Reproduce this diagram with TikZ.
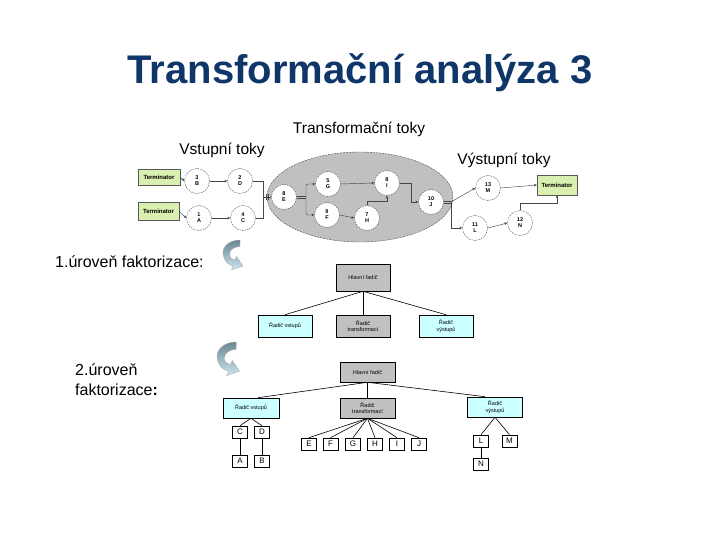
\documentclass[tikz,border=0pt]{standalone}
\usepackage{fontspec}
\setmainfont{Liberation Sans}
\usetikzlibrary{arrows.meta}
\definecolor{titleblue}{RGB}{14,54,104}
\definecolor{ellgray}{RGB}{192,192,192}
\definecolor{termgreen}{RGB}{218,240,176}
\definecolor{boxcyan}{RGB}{204,255,255}
\definecolor{boxgray}{RGB}{192,192,192}
\definecolor{linegray}{RGB}{70,70,70}
\definecolor{arrdark}{RGB}{105,135,145}
\definecolor{arrlight}{RGB}{205,230,242}
\tikzset{
  proc/.style={circle, draw=linegray, dash pattern=on 1.5pt off 1pt, fill=white, minimum size=25pt, inner sep=0pt,
    font=\fontsize{5.5}{6}\selectfont\bfseries, align=center, line width=0.4pt},
  term/.style={rectangle, draw=gray!70!black, fill=termgreen, inner sep=0pt, line width=0.4pt,
    font=\fontsize{6}{7}\selectfont\bfseries},
  flow/.style={draw=linegray, line width=0.45pt, -{Stealth[length=3pt,width=2.6pt]}},
  plain/.style={draw=linegray, line width=0.45pt},
  ctrl/.style={rectangle, draw=black, line width=0.6pt, minimum width=54pt, minimum height=22pt, inner sep=1pt,
    font=\fontsize{5.5}{6.5}\selectfont, align=center},
  ctrlgray/.style={ctrl, fill=boxgray},
  ctrlcyan/.style={ctrl, fill=boxcyan},
  leaf/.style={rectangle, draw=black, line width=0.6pt, fill=white, minimum width=15pt, minimum height=12pt, inner sep=0pt,
    font=\fontsize{8}{8}\selectfont},
  tree/.style={draw=black, line width=0.6pt},
  txt/.style={font=\fontsize{15.5}{18}\selectfont},
  uturn/.pic={
    \path[draw=gray!70, line width=0.3pt, top color=arrdark, bottom color=arrlight]
      (18,0) .. controls (6,0) and (0,8) .. (1,14) .. controls (2,21) and (6,25) .. (11,26)
      -- (9.5,30) -- (21,26) -- (14.5,16.5) -- (13,20)
      .. controls (9,19) and (7,17) .. (7.5,14) .. controls (8,10) and (11,7) .. (18,6.5) -- cycle;
  }
}
\begin{document}
\begin{tikzpicture}[x=1pt, y=-1pt]
\useasboundingbox (0,0) rectangle (720,540);
% title and labels
\node[anchor=base, font=\fontsize{40}{48}\selectfont\bfseries, text=titleblue, inner sep=0] (title) at (360,84) {Transformační analýza 3};
\node[anchor=base, txt, inner sep=0] (ttok) at (359,134) {Transformační toky};
\node[anchor=base, txt, inner sep=0] (vtok) at (222,155) {Vstupní toky};
\node[anchor=base, txt, inner sep=0] (otok) at (504,165) {Výstupní toky};
\node[anchor=base west, font=\fontsize{16}{20}\selectfont, inner sep=0] (lev1) at (55,267) {1.úroveň faktorizace:};
\node[anchor=base west, font=\fontsize{16}{20}\selectfont, inner sep=0] (lev2a) at (75,375) {2.úroveň};
\node[anchor=base west, font=\fontsize{16}{20}\selectfont, inner sep=0] (lev2b) at (75,395) {faktorizace\textbf{:}};
% curved arrows
\pic at (222,240) {uturn};
\pic[scale=1.12] at (216,342) {uturn};
% ellipse
\path[draw=gray!60!black, dash pattern=on 2pt off 1pt, line width=0.4pt, fill=ellgray] (360,197) ellipse [x radius=93, y radius=45];
% terminators
\node[term, minimum width=42pt, minimum height=16pt] (t1) at (159,177) {Terminator};
\node[term, minimum width=41pt, minimum height=18pt] (t2) at (158.5,211.5) {Terminator};
\node[term, minimum width=40pt, minimum height=20pt] (t3) at (557,185) {Terminator};
% processes
\node[proc] (p3) at (197,181) {3\\B};
\node[proc] (p2) at (240,181) {2\\D};
\node[proc] (p1) at (199,218) {1\\A};
\node[proc] (p4) at (243,218) {4\\C};
\node[proc] (p8) at (284,197) {8\\E};
\node[proc] (p5) at (328,184) {5\\G};
\node[proc] (p9) at (327,215) {9\\F};
\node[proc] (p8i) at (387,183) {8\\I};
\node[proc] (p7) at (367,218) {7\\H};
\node[proc] (p10) at (431,202) {10\\J};
\node[proc] (p13) at (488,188) {13\\M};
\node[proc] (p11) at (475,228) {11\\L};
\node[proc] (p12) at (520,223) {12\\N};
% flows
\draw[flow] (t1.east) -- (p3.west);
\draw[flow] (p3.east) -- (p2.west);
\draw[flow] (t2.east) -- (p1.west);
\draw[flow] (p1.east) -- (p4.west);
\coordinate (jE) at (263,197);
\draw[plain] (p2.east) -| (jE);
\draw[plain] (p4.east) -| (jE);
\draw[plain] (jE) -- (p8.west);
\draw[plain] ([xshift=3pt,yshift=3pt]jE) -- ([xshift=3pt,yshift=-3pt]jE)
             ([xshift=5pt,yshift=3pt]jE) -- ([xshift=5pt,yshift=-3pt]jE);
\coordinate (sE) at (306,197);
\draw[plain] ([yshift=1pt]p8.east) -- ([yshift=1pt]sE) ([yshift=-1pt]p8.east) -- ([yshift=-1pt]sE);
\draw[flow, rounded corners=2pt] (sE) |- (p5.west);
\draw[flow, rounded corners=2pt] (sE) |- (p9.west);
\draw[flow] (p5.east) -- (p8i.west);
\draw[flow] (p9.east) -- (p7.west);
\coordinate (hI) at (367,201);
\draw[flow] (p7.north) -- (hI) -| (p8i.south);
\coordinate (iJ) at (411,183);
\draw[flow] (p8i.east) -- (iJ) |- (p10.west);
\coordinate (sJ) at (451,202);
\draw[plain] ([yshift=1pt]p10.east) -- ([yshift=1pt]sJ) ([yshift=-1pt]p10.east) -- ([yshift=-1pt]sJ);
\draw[flow] (sJ) -- (p13.west);
\draw[flow] (sJ) |- (p11.west);
\draw[flow] (p13.east) -- (t3.west);
\draw[flow] (p11.east) -- (p12.west);
\coordinate (nT) at (520,203);
\draw[flow] (p12.north) -- (nT) -| (t3.south);
% level 1 hierarchy
\node[ctrlgray, minimum height=27pt] (h1) at (363,277.5) {Hlavní řadič};
\node[ctrlcyan] (v1) at (285,326) {Řadič vstupů};
\node[ctrlgray] (tr1) at (363,326) {Řadič\\transformací};
\node[ctrlcyan] (o1) at (446,326) {Řadič\\výstupů};
\draw[tree] (h1.south) -- (v1.north);
\draw[tree] (h1.south) -- (tr1.north);
\draw[tree] (h1.south) -- (o1.north);
% level 2 hierarchy
\node[ctrlgray, minimum width=55pt, minimum height=20pt] (h2) at (367.5,372) {Hlavní řadič};
\node[ctrlcyan, minimum width=56pt, minimum height=20pt] (v2) at (251,408) {Řadič vstupů};
\node[ctrlgray, minimum width=55pt, minimum height=20pt] (tr2) at (367.5,408) {Řadič\\transformací};
\node[ctrlcyan, minimum width=55pt, minimum height=20pt] (o2) at (495,407) {Řadič\\výstupů};
\draw[tree] (h2.south) -- ([xshift=7pt]v2.north);
\draw[tree] (h2.south) -- (tr2.north);
\draw[tree] (h2.south) -- ([xshift=-10pt]o2.north);
\node[leaf] (C) at (240,432) {C};
\node[leaf] (D) at (262,432) {D};
\node[leaf] (A) at (240,461) {A};
\node[leaf] (B) at (262,461) {B};
\draw[tree] (v2.south) -- (C.north);
\draw[tree] (v2.south) -- (D.north);
\draw[tree] (C.south) -- (A.north);
\draw[tree] (D.south) -- (B.north);
\node[leaf] (E) at (309,444) {E};
\node[leaf] (F) at (330.5,444) {F};
\node[leaf] (G) at (353,444) {G};
\node[leaf] (H) at (375,444) {H};
\node[leaf] (I) at (397,444) {I};
\node[leaf] (J) at (419,444) {J};
\foreach \n in {E,F,G,H,I,J} \draw[tree] (tr2.south) -- (\n.north);
\node[leaf] (L) at (481,441) {L};
\node[leaf] (M) at (509.5,441) {M};
\node[leaf] (N) at (481,464) {N};
\draw[tree] (o2.south) -- (L.north);
\draw[tree] (o2.south) -- (M.north);
\draw[tree] (L.south) -- (N.north);
\end{tikzpicture}
\end{document}
